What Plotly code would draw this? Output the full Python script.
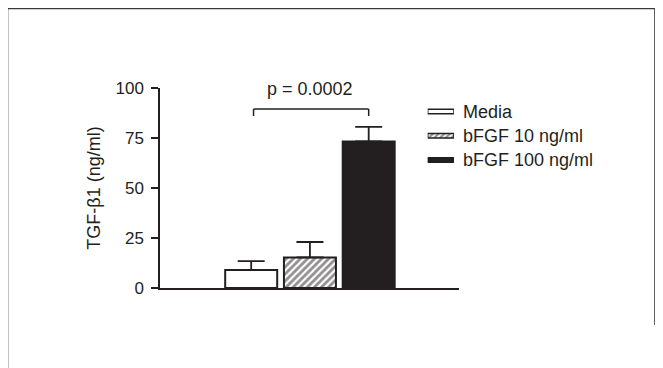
import plotly.graph_objects as go

# ---- data ----
categories = ["Media", "bFGF 10 ng/ml", "bFGF 100 ng/ml"]
means = [9.0, 15.3, 73.3]
errors = [4.4, 7.7, 7.3]
y_ticks = [0, 25, 50, 75, 100]
y_title = "TGF-β1 (ng/ml)"
p_text = "p = 0.0002"

INK = "#231f20"
FONT = "Liberation Sans, Arial, sans-serif"

fills = ["white", "white", INK]
patterns = [None, dict(shape="/", bgcolor="white", fgcolor=INK, size=5, solidity=0.55), None]

fig = go.Figure()

for name, m, e, fc, pat in zip(categories, means, errors, fills, patterns):
    marker = dict(color=fc, line=dict(color=INK, width=2))
    if pat:
        marker["pattern"] = pat
    fig.add_trace(go.Bar(
        x=[name], y=[m], width=0.885, marker=marker, name=name,
        error_y=dict(type="data", symmetric=False, array=[e], arrayminus=[0],
                     color=INK, thickness=1.8, width=13.5),
        showlegend=False, hoverinfo="skip",
    ))

# custom legend swatches (wide flat rectangles)
for name, fc, pat in zip(categories, fills, patterns):
    marker = dict(color=fc, line=dict(color=INK, width=1.5))
    if pat:
        marker["pattern"] = dict(pat, size=4, solidity=0.55)
    fig.add_trace(go.Bar(
        x=[1], y=[name], base=0, orientation="h", width=0.19, marker=marker,
        xaxis="x2", yaxis="y2", showlegend=False, hoverinfo="skip",
    ))

annotations = [
    dict(x=1, y=99.5, xref="x", yref="y", text=p_text, showarrow=False,
         xanchor="center", yanchor="middle", font=dict(size=18, color=INK, family=FONT)),
]
for name in categories:
    annotations.append(dict(x=1.0067, y=name, xref="paper", yref="y2", text=name,
                            showarrow=False, xanchor="left", yanchor="middle",
                            font=dict(size=18, color=INK, family=FONT)))

shapes = [
    # significance bracket
    dict(type="line", xref="x", yref="y", x0=0.04, x1=2.0, y0=89.5, y1=89.5,
         line=dict(color=INK, width=1.5)),
    dict(type="line", xref="x", yref="y", x0=0.04, x1=0.04, y0=89.5, y1=86,
         line=dict(color=INK, width=1.5)),
    dict(type="line", xref="x", yref="y", x0=2.0, x1=2.0, y0=89.5, y1=86,
         line=dict(color=INK, width=1.5)),
    # outer frame (left, top, right)
    dict(type="line", xref="paper", yref="paper", x0=-0.510, x1=-0.510, y0=1.3975, y1=-0.45,
         line=dict(color="#3a3a3a", width=1.6)),
    dict(type="line", xref="paper", yref="paper", x0=-0.510, x1=1.6555, y0=1.3975, y1=1.3975,
         line=dict(color="#3a3a3a", width=1.6)),
    dict(type="line", xref="paper", yref="paper", x0=1.6555, x1=1.6555, y0=1.3975, y1=-0.185,
         line=dict(color="#3a3a3a", width=1.6)),
]

fig.update_layout(
    width=655, height=360,
    margin=dict(l=152, r=204, t=80, b=80, pad=0),
    paper_bgcolor="white", plot_bgcolor="white",
    barmode="overlay",
    font=dict(family=FONT, color=INK, size=17),
    xaxis=dict(type="category", categoryarray=categories, range=[-1.552, 3.537],
               showline=True, linecolor=INK, linewidth=2.3, showticklabels=False,
               ticks="", showgrid=False, zeroline=False, fixedrange=True),
    yaxis=dict(range=[0, 100], tickvals=y_ticks, showline=True, linecolor=INK, linewidth=1.5,
               ticks="outside", ticklen=7, tickwidth=1.5, tickcolor=INK,
               tickfont=dict(size=17, color=INK, family=FONT), ticklabelstandoff=4,
               showgrid=False, zeroline=False,
               title=dict(text=y_title, font=dict(size=18, color=INK, family=FONT), standoff=10)),
    xaxis2=dict(domain=[0.8953, 0.9833], anchor="y2", range=[0, 1], visible=False, fixedrange=True),
    yaxis2=dict(domain=[0.5795, 0.943], anchor="x2", type="category", categoryarray=categories,
                range=[2.5, -0.5], visible=False, fixedrange=True),
    annotations=annotations,
    shapes=shapes,
)

fig.write_html("out.html")
